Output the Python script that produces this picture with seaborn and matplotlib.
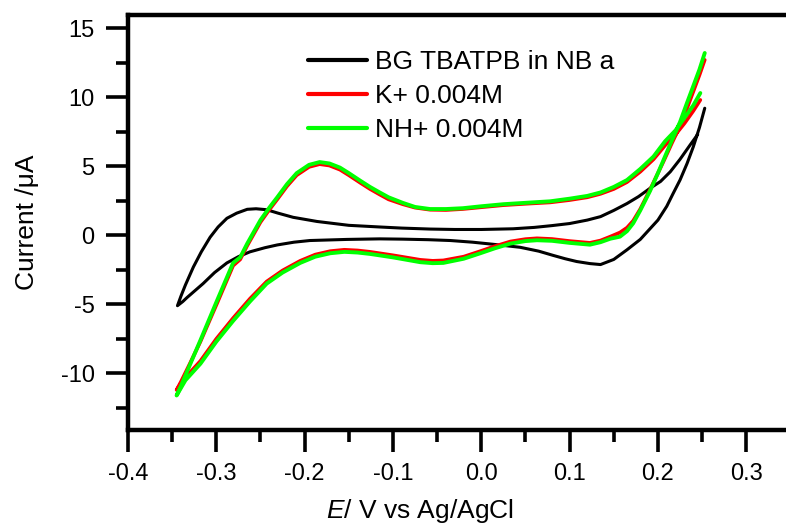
import numpy as np
import pandas as pd
import matplotlib
matplotlib.use('Agg')
import matplotlib.pyplot as plt
import seaborn as sns
from matplotlib.ticker import MultipleLocator
from matplotlib.lines import Line2D

# background scan (black) - one sweep, right end -> left vertex -> right end
bg_E = [0.245, 0.236, 0.225, 0.214, 0.203, 0.191, 0.178, 0.165, 0.150, 0.135,
        0.120, 0.100, 0.080, 0.060, 0.036, 0.000, -0.030, -0.058, -0.090, -0.115,
        -0.150, -0.186, -0.213, -0.230, -0.243, -0.255, -0.265, -0.277, -0.288, -0.298,
        -0.307, -0.317, -0.326, -0.335, -0.340, -0.344,
        -0.338, -0.333, -0.324, -0.315, -0.302, -0.288, -0.275, -0.262, -0.245, -0.231,
        -0.212, -0.194, -0.152, -0.115, -0.089, -0.060, -0.035, -0.010, 0.013, 0.044,
        0.065, 0.081, 0.095, 0.108, 0.123, 0.135, 0.150, 0.165, 0.180, 0.190,
        0.200, 0.210, 0.217, 0.225, 0.233, 0.240, 0.247, 0.253]
bg_I = [7.3, 6.5, 5.5, 4.6, 3.9, 3.4, 2.8, 2.3, 1.8, 1.35,
        1.1, 0.85, 0.7, 0.57, 0.47, 0.42, 0.42, 0.45, 0.52, 0.6,
        0.72, 1.0, 1.3, 1.6, 1.85, 1.92, 1.88, 1.6, 1.23, 0.6,
        -0.14, -1.2, -2.3, -3.6, -4.4, -5.1,
        -4.8, -4.5, -4.0, -3.5, -2.7, -2.0, -1.55, -1.2, -0.9, -0.7,
        -0.5, -0.38, -0.3, -0.26, -0.28, -0.32, -0.38, -0.5, -0.65, -0.87,
        -1.15, -1.45, -1.7, -1.9, -2.05, -2.12, -1.75, -1.05, -0.3, 0.4,
        1.1, 2.1, 3.0, 4.0, 5.2, 6.4, 7.8, 9.2]

# K+ and NH+ scans share the same potential points
ion_E = [0.248, 0.240, 0.230, 0.220, 0.208, 0.195, 0.180, 0.165, 0.150, 0.135,
         0.120, 0.100, 0.078, 0.050, 0.025, 0.000, -0.021, -0.040, -0.058, -0.075,
         -0.089, -0.105, -0.115, -0.126, -0.137, -0.150, -0.160, -0.172, -0.183, -0.195,
         -0.209, -0.220, -0.231, -0.240, -0.250, -0.265, -0.273, -0.281, -0.299, -0.318,
         -0.330, -0.340, -0.345,
         -0.335, -0.318, -0.300, -0.281, -0.262, -0.243, -0.225, -0.205, -0.188, -0.171,
         -0.155, -0.140, -0.126, -0.100, -0.069, -0.055, -0.043, -0.020, -0.001, 0.015,
         0.033, 0.050, 0.063, 0.080, 0.100, 0.123, 0.135, 0.146, 0.157, 0.165,
         0.172, 0.180, 0.191, 0.200, 0.206, 0.216, 0.225, 0.233, 0.240, 0.247, 0.253]
k_I = [9.8, 9.0, 8.1, 7.3, 6.5, 5.5, 4.6, 3.85, 3.35, 3.0,
       2.75, 2.55, 2.38, 2.28, 2.18, 2.03, 1.9, 1.83, 1.85, 2.0,
       2.25, 2.6, 2.95, 3.35, 3.8, 4.35, 4.75, 5.05, 5.15, 4.95,
       4.35, 3.55, 2.6, 1.85, 0.95, -0.75, -1.75, -2.2, -4.9, -7.7,
       -9.3, -10.6, -11.2,
       -10.3, -9.1, -7.5, -6.0, -4.6, -3.35, -2.55, -1.85, -1.4, -1.15,
       -1.05, -1.1, -1.2, -1.45, -1.78, -1.85, -1.82, -1.55, -1.15, -0.8,
       -0.45, -0.28, -0.22, -0.27, -0.42, -0.55, -0.38, -0.1, 0.2, 0.55,
       1.05, 1.9, 3.3, 4.5, 5.3, 6.7, 7.9, 9.2, 10.4, 11.6, 12.7]
nh_I = [10.3, 9.4, 8.5, 7.6, 6.8, 5.7, 4.8, 4.0, 3.5, 3.1,
        2.85, 2.65, 2.46, 2.35, 2.25, 2.1, 1.96, 1.9, 1.9, 2.05,
        2.35, 2.75, 3.1, 3.5, 3.95, 4.5, 4.9, 5.2, 5.3, 5.1,
        4.5, 3.7, 2.75, 2.0, 1.1, -0.6, -1.6, -2.0, -4.7, -7.6,
        -9.4, -10.9, -11.6,
        -10.5, -9.3, -7.7, -6.2, -4.8, -3.5, -2.7, -2.0, -1.55, -1.3,
        -1.2, -1.25, -1.35, -1.6, -1.95, -2.02, -2.0, -1.7, -1.3, -0.95,
        -0.6, -0.42, -0.36, -0.4, -0.55, -0.68, -0.5, -0.25, -0.1, 0.3,
        0.87, 1.8, 3.2, 4.5, 5.4, 6.9, 8.2, 9.6, 10.8, 12.0, 13.2]

labels = ['BG TBATPB in NB a', 'K+ 0.004M', 'NH+ 0.004M']
colors = ['black', '#ff0000', '#00ff00']

rows = []
for lab, xs, ys in [(labels[0], bg_E, bg_I), (labels[1], ion_E, k_I), (labels[2], ion_E, nh_I)]:
    for i, (x, y) in enumerate(zip(xs, ys)):
        rows.append({'E': x, 'I': y, 'scan': lab, 'step': i})
df = pd.DataFrame(rows)

sns.set_style('ticks')
plt.rcParams['font.family'] = ['Liberation Sans', 'DejaVu Sans']
plt.rcParams['mathtext.fontset'] = 'custom'
plt.rcParams['mathtext.it'] = 'Liberation Sans:italic'
plt.rcParams['mathtext.rm'] = 'Liberation Sans'
plt.rcParams['text.color'] = 'black'
plt.rcParams['axes.labelcolor'] = 'black'
plt.rcParams['xtick.color'] = 'black'
plt.rcParams['ytick.color'] = 'black'

fig = plt.figure(figsize=(7.86, 5.26), dpi=100)
ax = fig.add_axes([128/786, 96/526, 658/786, 415/526])

sns.lineplot(data=df, x='E', y='I', hue='scan', hue_order=labels, palette=colors,
             sort=False, estimator=None, units='scan', ax=ax, legend=False)
widths = [2.2, 2.6, 2.8]
for line, w in zip(ax.lines, widths):
    line.set_linewidth(w)
    line.set_solid_joinstyle('round')

ax.set_xlim(-0.4, 0.345)
ax.set_ylim(-14.1, 15.95)
ax.xaxis.set_minor_locator(MultipleLocator(0.05))
ax.yaxis.set_minor_locator(MultipleLocator(2.5))
ax.set_xticks([-0.4, -0.3, -0.2, -0.1, 0.0, 0.1, 0.2, 0.3])
ax.set_xticklabels(['-0.4', '-0.3', '-0.2', '-0.1', '0.0', '0.1', '0.2', '0.3'])
ax.set_yticks([-10, -5, 0, 5, 10, 15])
ax.set_yticklabels(['-10', '-5', '0', '5', '10', '15'])

ax.tick_params(which='major', length=16, width=2.6, labelsize=17, pad=8,
               direction='out', colors='black')
ax.tick_params(which='minor', length=8.5, width=2.6, direction='out', colors='black')
for side in ['left', 'bottom', 'top']:
    ax.spines[side].set_linewidth(3.2)
    ax.spines[side].set_color('black')
ax.spines['right'].set_visible(False)

ax.set_xlabel(r'$\mathit{E}$/ V vs Ag/AgCl', fontsize=19, color='black')
ax.set_ylabel('Current /\u03bcA', fontsize=19, color='black')
ax.xaxis.set_label_coords(0.444, -0.162)
ax.yaxis.set_label_coords(-0.135, 0.5)

handles = [Line2D([], [], color=c, lw=3) for c in colors]
leg = ax.legend(handles, labels, loc='upper left', bbox_to_anchor=(0.2736, 0.916),
                frameon=False, fontsize=19, handlelength=2.25, handletextpad=0.28,
                labelspacing=0.38, borderpad=0, borderaxespad=0)
for t in leg.get_texts():
    t.set_color('black')

fig.savefig('out.png', dpi=100)
